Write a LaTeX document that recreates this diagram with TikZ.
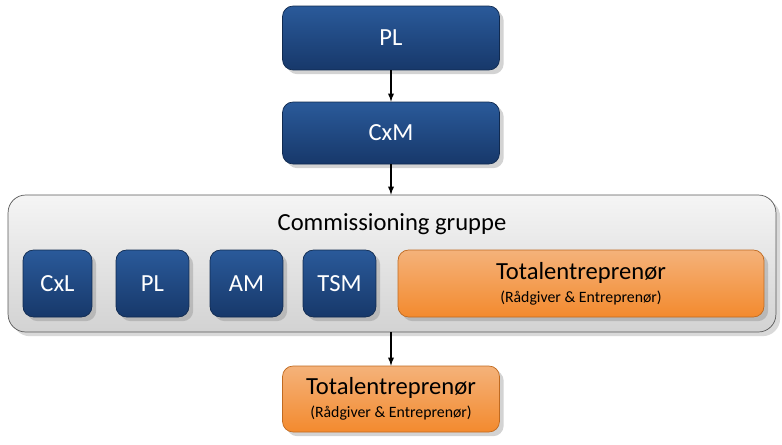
\documentclass[tikz,border=0pt]{standalone}
\usepackage{fontspec}
\setmainfont{Carlito}
\usetikzlibrary{positioning,shadows}
\definecolor{blueTop}{HTML}{2A5A9A}
\definecolor{blueBot}{HTML}{17386A}
\definecolor{blueLine}{HTML}{102A50}
\definecolor{orTop}{HTML}{F4B27A}
\definecolor{orBot}{HTML}{F38A2E}
\definecolor{orLine}{HTML}{C06A20}
\tikzset{
  blue box/.style={draw=blueLine, rounded corners=6pt, top color=blueTop,
                   bottom color=blueBot, text=white, font=\fontsize{14}{16}\selectfont,
                   drop shadow={opacity=0.35}, inner sep=0pt},
  orange box/.style={draw=orLine, rounded corners=6pt, top color=orTop,
                   bottom color=orBot, text=black, align=center,
                   drop shadow={opacity=0.35}, inner sep=0pt},
  group box/.style={draw=gray!70!black, rounded corners=10pt, top color=gray!8,
                   bottom color=gray!35, drop shadow={opacity=0.3}},
  flow/.style={->, >=latex, line width=0.6pt}
}
\newcommand{\bigsmall}[2]{{\fontsize{14}{16}\selectfont #1}\\[1pt]{\fontsize{9}{11}\selectfont #2}}
\begin{document}
\begin{tikzpicture}[x=0.02cm,y=-0.02cm]
  \useasboundingbox (0,0) rectangle (782,444);
  % top chain
  \node[blue box, minimum width=4.34cm, minimum height=1.28cm] at (391,38) (pl) {PL};
  \node[blue box, minimum width=4.34cm, minimum height=1.24cm] at (391,133) (cxm) {CxM};
  % group
  \node[group box, minimum width=15.36cm, minimum height=2.74cm] at (392,263.5) (grp) {};
  \node[font=\fontsize{14}{16}\selectfont] at (392,224) (title) {Commissioning gruppe};
  \node[blue box, minimum width=1.38cm, minimum height=1.34cm] at (57.5,283.5) (cxl) {CxL};
  \node[blue box, minimum width=1.46cm, minimum height=1.34cm] at (152.5,283.5) (pl2) {PL};
  \node[blue box, minimum width=1.46cm, minimum height=1.34cm] at (246.5,283.5) (am) {AM};
  \node[blue box, minimum width=1.46cm, minimum height=1.34cm] at (339.5,283.5) (tsm) {TSM};
  \node[orange box, minimum width=7.32cm, minimum height=1.34cm] at (581,283.5) (te)
       {\bigsmall{Totalentreprenør}{(Rådgiver \& Entreprenør)}};
  % bottom
  \node[orange box, minimum width=4.34cm, minimum height=1.32cm] at (391,399) (te2)
       {\bigsmall{Totalentreprenør}{(Rådgiver \& Entreprenør)}};
  % arrows
  \draw[flow] (pl) -- (cxm);
  \draw[flow] (cxm) -- (grp.north -| cxm);
  \draw[flow] (grp.south -| te2) -- (te2);
\end{tikzpicture}
\end{document}
